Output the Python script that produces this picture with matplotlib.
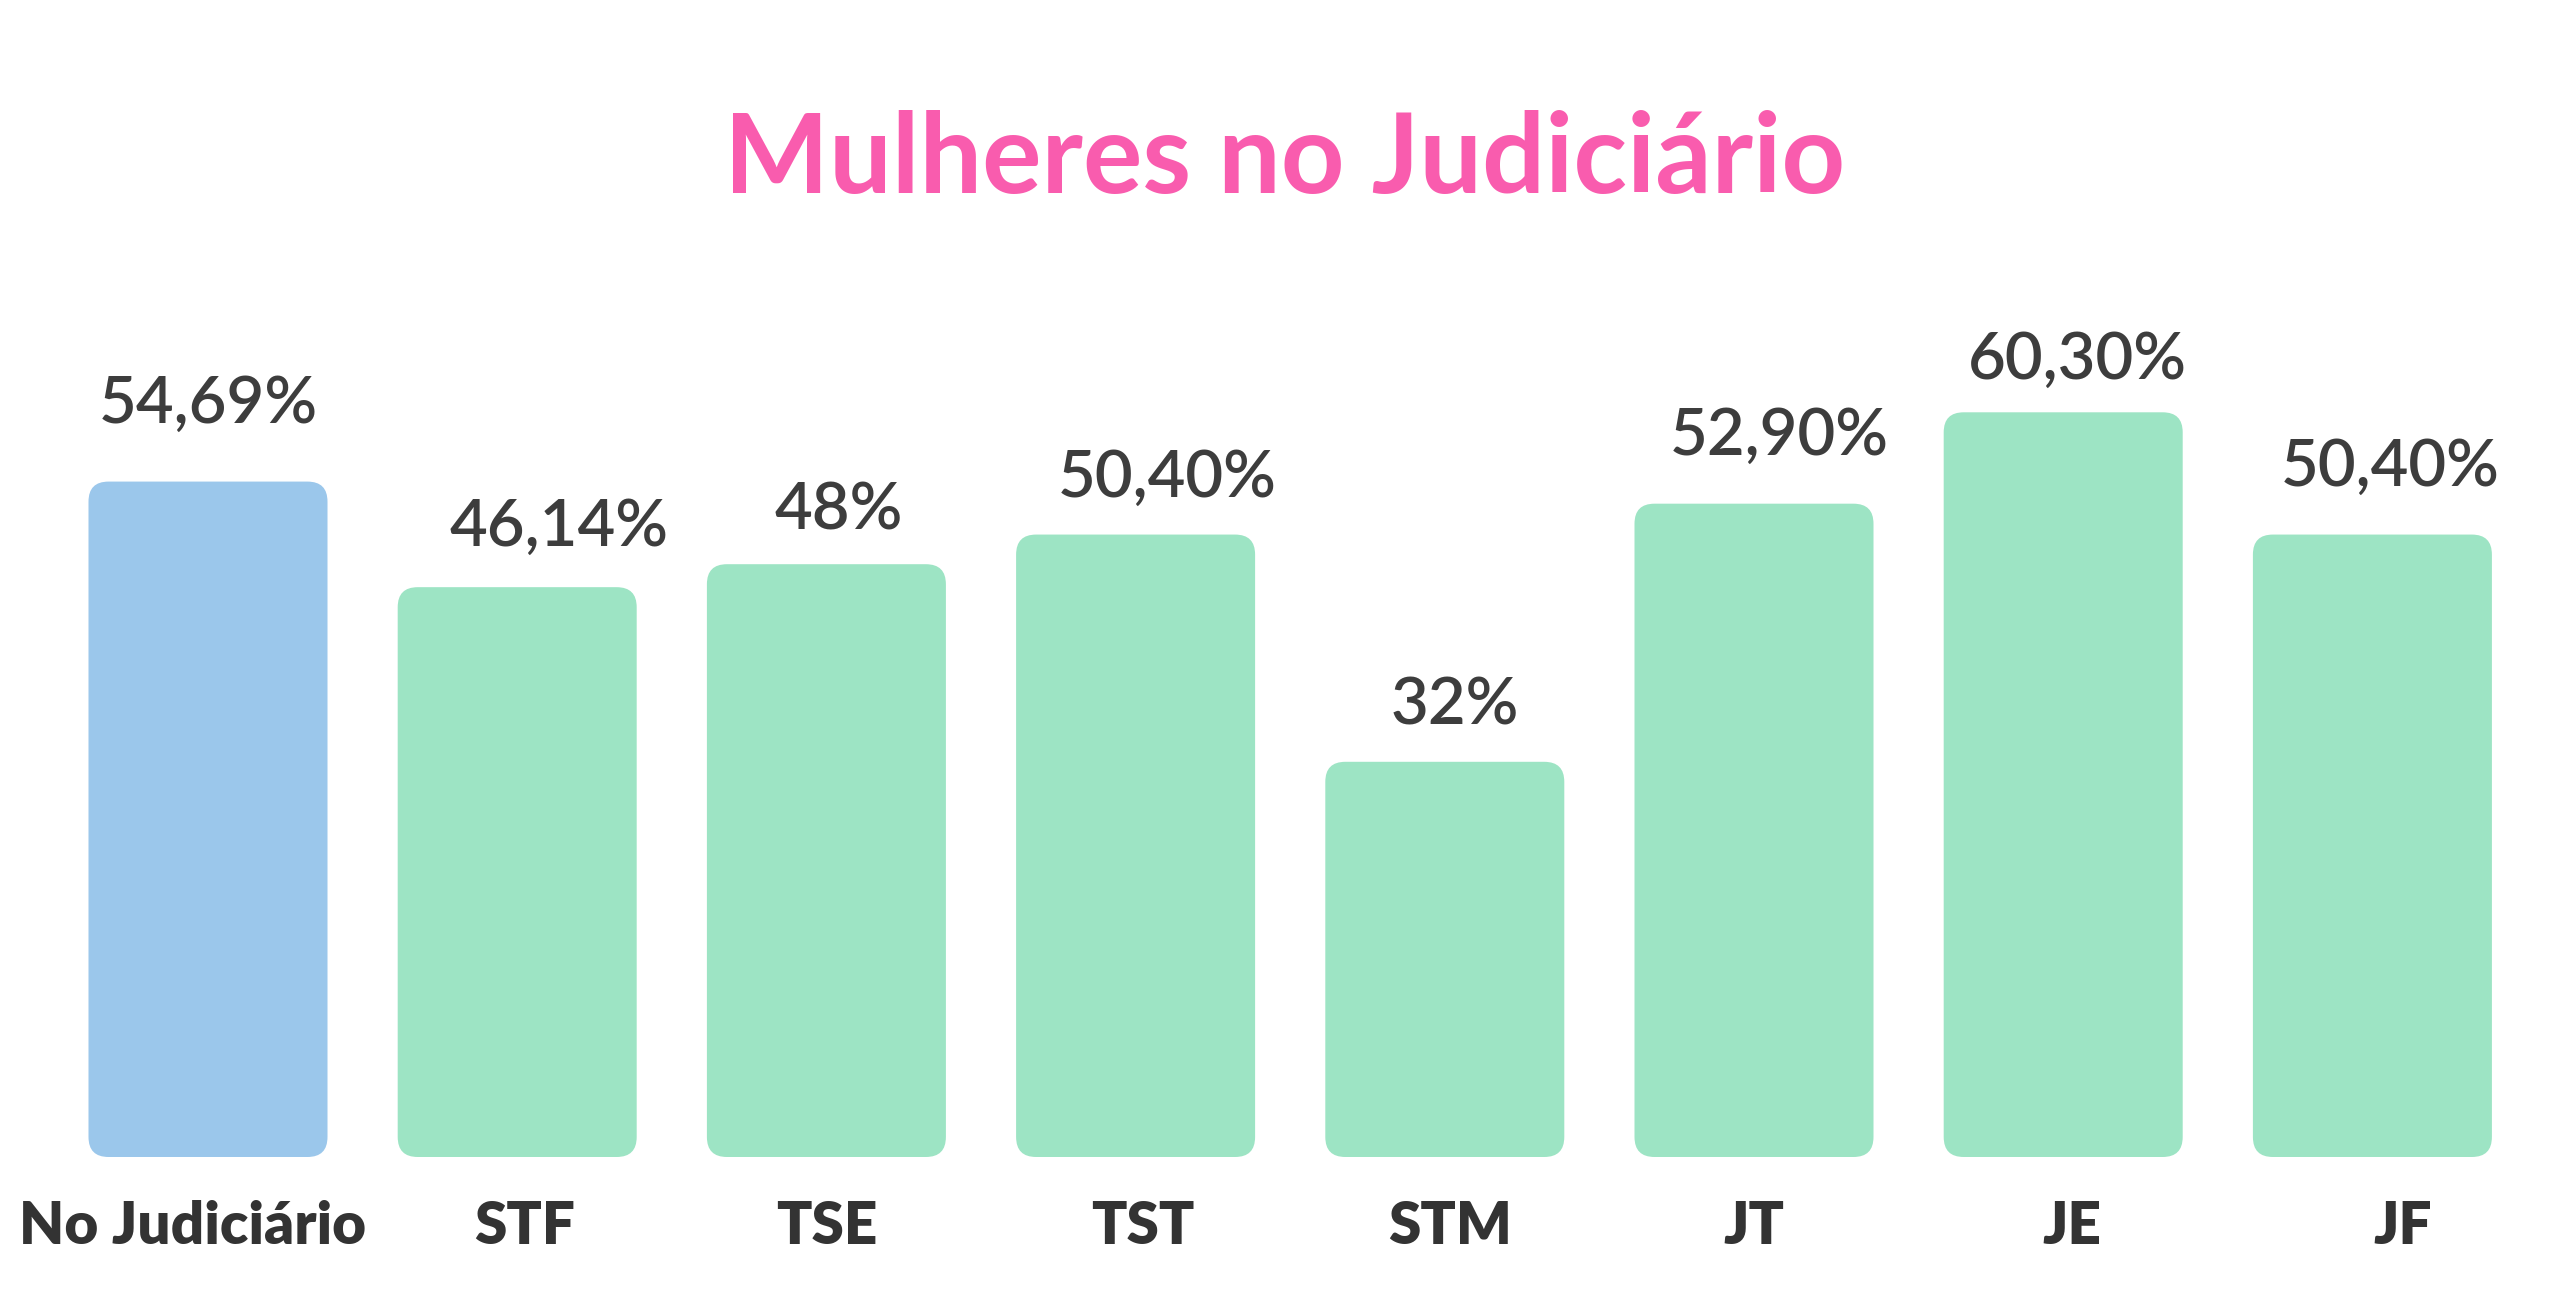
import matplotlib
matplotlib.use("Agg")
import matplotlib.pyplot as plt
from matplotlib.patches import FancyBboxPatch

plt.rcParams["font.family"] = ["Lato", "DejaVu Sans"]

categories = ["No Judiciário", "STF", "TSE", "TST", "STM", "JT", "JE", "JF"]
values = [54.69, 46.14, 48.0, 50.40, 32.0, 52.90, 60.30, 50.40]
value_labels = ["54,69%", "46,14%", "48%", "50,40%", "32%", "52,90%", "60,30%", "50,40%"]
bar_colors = ["#9bc7eb"] + ["#9de4c4"] * 7

# small per-label nudges (points) to follow the original placement
value_dx = [0, 30, 9, 23, 7, 18, 10, 13]
value_dy = [42, 30, 25, 27, 27, 35, 24, 35]
cat_dx = [-11, 5, 0, 5, 4, 0, 6, 22]

W, H = 2560, 1293
fig = plt.figure(figsize=(W / 100, H / 100), dpi=100)
base_px = 1157
ax = fig.add_axes([0, (H - base_px) / H, 1, base_px / H])
px_per_x = 309.2
px_per_y = 12.35
ax.set_xlim(-208 / px_per_x, (W - 208) / px_per_x)
ax.set_ylim(0, base_px / px_per_y)
ax.axis("off")

bar_w = 239 / px_per_x
radius = 20 / px_per_x
aspect = px_per_x / px_per_y
for i, (v, c) in enumerate(zip(values, bar_colors)):
    ax.add_patch(FancyBboxPatch((i - bar_w / 2, 0), bar_w, v,
                                boxstyle=f"round,pad=0,rounding_size={radius}",
                                mutation_aspect=aspect, facecolor=c, edgecolor="none"))
    ax.annotate(value_labels[i], xy=(i, v), xytext=(value_dx[i], value_dy[i]),
                textcoords="offset points", ha="center", va="baseline",
                fontsize=47, fontweight="semibold", color="#3d3d3d", annotation_clip=False)
    ax.annotate(categories[i], xy=(i, 0), xytext=(cat_dx[i], -63),
                textcoords="offset points", ha="center", va="baseline",
                fontsize=42, fontweight="heavy", color="#333333", annotation_clip=False)

fig.text(1285 / W, 1 - 193 / H, "Mulheres no Judiciário", ha="center", va="baseline",
         fontsize=80, fontweight="bold", color="#f95cae")

fig.savefig("out.png", dpi=100, facecolor="white")
